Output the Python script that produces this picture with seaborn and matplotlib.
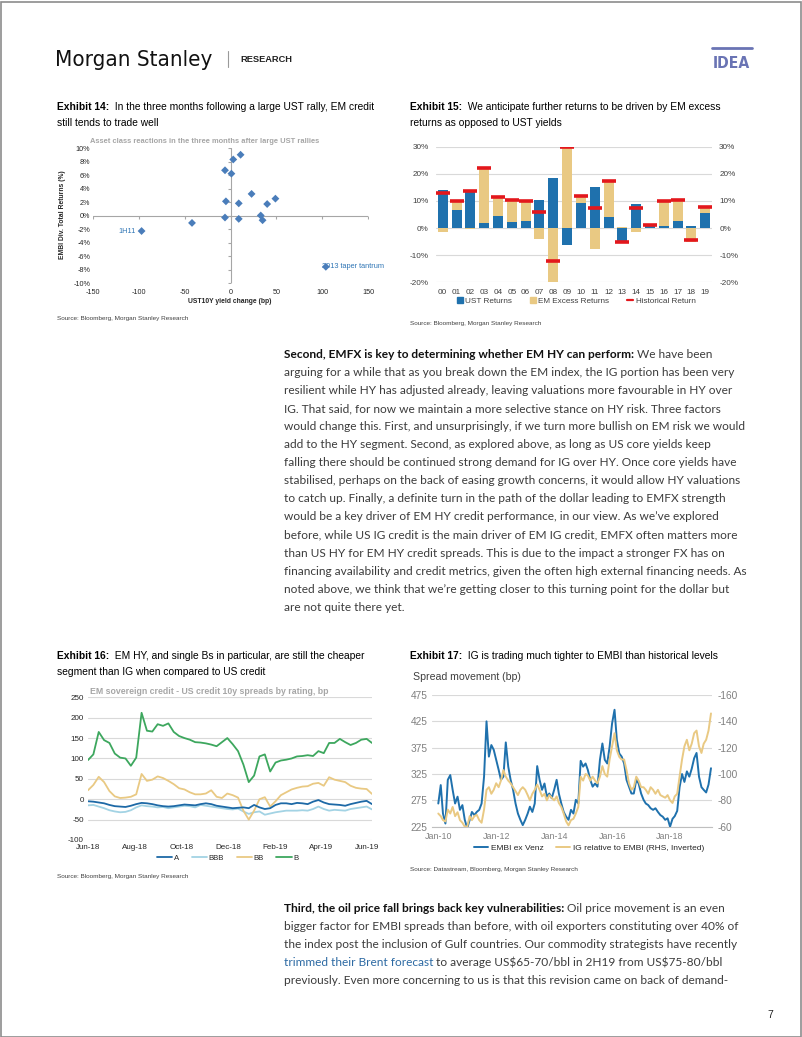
import numpy as np
import pandas as pd
import matplotlib
matplotlib.use('Agg')
import matplotlib.pyplot as plt
import matplotlib.dates as mdates
from matplotlib import font_manager
from matplotlib.lines import Line2D
from matplotlib.patches import Patch, Rectangle
from matplotlib.ticker import FuncFormatter
import seaborn as sns

W, H = 802, 1037

# Exhibit 14: UST rally episodes
ust_change = [11, 3, -6, 1, 23, 49, -5, 9, 40, -6, 9, 33, 35, -42, -97, 104]
embi_return = [9.0, 8.3, 6.7, 6.2, 3.2, 2.5, 2.1, 1.8, 1.7, -0.3, -0.5, 0.0, -0.7, -1.1, -2.3, -7.6]

# Exhibit 15: yearly returns (%)
years = ['00', '01', '02', '03', '04', '05', '06', '07', '08', '09',
         '10', '11', '12', '13', '14', '15', '16', '17', '18', '19']
ust_returns = [14.2, 6.6, 14.1, 2.0, 4.3, 2.3, 2.7, 10.3, 18.3, -6.1,
               9.3, 15.2, 4.1, -5.6, 8.8, 0.8, 0.7, 2.5, 0.9, 5.7]
em_excess = [-1.4, 3.1, -0.5, 20.2, 7.2, 7.9, 7.1, -4.2, -30.5, 30.0,
             2.7, -7.9, 13.3, 0.5, -1.3, 0.5, 9.4, 7.8, -5.0, 2.0]
hist_return = [12.8, 9.8, 13.7, 22.2, 11.5, 10.2, 9.8, 6.1, -12.2, 30.0,
               12.0, 7.4, 17.3, -5.3, 7.5, 1.3, 10.1, 10.3, -4.3, 7.7]

# Exhibit 16: weekly spreads by rating, bp
week_dates = pd.date_range('2018-06-01', periods=54, freq='7D')
rating_a = [-5, -6, -8, -10, -14, -17, -18, -19, -16, -12,
            -9, -10, -12, -15, -17, -18, -17, -15, -13, -14,
            -15, -12, -10, -12, -16, -18, -20, -22, -21, -20,
            -22, -14, -20, -24, -22, -14, -10, -10, -12, -9,
            -10, -12, -6, -2, -8, -12, -13, -14, -16, -12,
            -9, -6, -4, -12]
rating_bbb = [-15, -14, -18, -22, -27, -30, -32, -31, -27, -20,
              -15, -17, -18, -20, -19, -22, -20, -18, -16, -17,
              -20, -14, -16, -18, -20, -22, -24, -25, -23, -30,
              -36, -32, -30, -38, -35, -32, -30, -28, -28, -28,
              -27, -28, -24, -18, -24, -28, -26, -27, -28, -24,
              -22, -20, -18, -25]
rating_bb = [22, 35, 55, 42, 20, 7, 3, 4, 6, 12,
             62, 45, 48, 56, 52, 45, 37, 27, 24, 17,
             12, 12, 14, 22, 6, 3, 14, 10, 4, -28,
             -50, -28, 0, 5, -18, -5, 10, 17, 24, 28,
             31, 32, 38, 40, 33, 54, 48, 45, 42, 33,
             28, 26, 25, 13]
rating_b = [96, 110, 165, 145, 138, 112, 102, 100, 82, 102,
            212, 168, 166, 184, 180, 186, 165, 155, 150, 146,
            140, 139, 137, 134, 130, 140, 150, 135, 118, 85,
            42, 58, 105, 110, 68, 90, 95, 97, 100, 105,
            106, 108, 106, 118, 113, 138, 138, 148, 140, 133,
            138, 146, 148, 138]

# Exhibit 17: monthly spreads, bp
month_dates = pd.date_range('2010-01-01', periods=114, freq='MS')
embi_ex_venz = [269, 304, 250, 231, 314, 323, 295, 269, 282, 257, 266, 238,
                222, 238, 253, 247, 253, 257, 269, 320, 425, 358, 380, 371,
                352, 333, 314, 320, 385, 339, 314, 295, 269, 250, 238, 228,
                238, 250, 263, 253, 269, 340, 314, 295, 307, 282, 288, 279,
                295, 314, 288, 269, 253, 244, 238, 257, 250, 276, 269, 350,
                339, 345, 333, 314, 301, 307, 301, 352, 383, 352, 345, 377,
                421, 447, 390, 364, 358, 345, 314, 301, 288, 288, 314, 307,
                288, 276, 269, 266, 260, 257, 260, 253, 247, 244, 238, 241,
                225, 240, 245, 255, 300, 325, 310, 330, 320, 335, 355, 365,
                320, 300, 295, 290, 305, 336]
ig_rel_embi = [-70, -68, -65, -64, -73, -70, -75, -68, -71, -65, -63, -60,
               -60, -68, -65, -68, -69, -65, -63, -73, -88, -90, -85, -88,
               -93, -90, -95, -103, -98, -95, -93, -90, -87, -84, -88, -90,
               -88, -84, -80, -85, -88, -92, -88, -83, -85, -80, -84, -82,
               -80, -83, -78, -75, -70, -64, -61, -65, -66, -70, -75, -98,
               -95, -100, -99, -95, -98, -95, -93, -98, -106, -100, -98, -111,
               -121, -131, -118, -113, -111, -111, -103, -93, -88, -90, -98, -95,
               -90, -90, -88, -85, -90, -88, -85, -88, -84, -83, -82, -84,
               -80, -78, -83, -85, -98, -111, -121, -126, -118, -123, -131, -133,
               -121, -116, -123, -126, -133, -146]

BLUE = '#1f71ad'
TAN = '#e9c983'
RED = '#e3171c'
GRID = '#d9d9d9'

sns.set_style('white')
CHART_FONT = ['Liberation Sans', 'DejaVu Sans']
BODY_FONT = ['Lato', 'DejaVu Sans']
plt.rcParams['font.family'] = CHART_FONT
plt.rcParams['axes.unicode_minus'] = False

# a condensed face for the logo, if one is installed
narrow = [f for f in font_manager.fontManager.ttflist if 'condensed' in str(f.stretch).lower()
          or 'Narrow' in f.name or 'Condensed' in f.name]
if narrow:
    LOGO = dict(family=narrow[0].name, fontstretch=narrow[0].stretch)
else:
    LOGO = dict(family=['Roboto', 'DejaVu Sans'])

fig = plt.figure(figsize=(W / 100, H / 100), dpi=100)
renderer = fig.canvas.get_renderer()


def fx(x):
    return x / W


def fy(y):
    return 1 - y / H


def add_ax(x0, y0, x1, y1):
    return fig.add_axes([x0 / W, 1 - y1 / H, (x1 - x0) / W, (y1 - y0) / H])


def put(x, y, s, **kw):
    kw.setdefault('va', 'baseline')
    return fig.text(fx(x), fy(y), s, **kw)


def rich(x, y, parts, **kw):
    cx = x
    for s, weight, color in parts:
        t = put(cx, y, s, fontweight=weight, color=color, **kw)
        cx = t.get_window_extent(renderer).x1
    return cx


def fit(s, width, **kw):
    t = fig.text(0, 0, s, fontsize=10, **kw)
    w = t.get_window_extent(renderer).width
    t.remove()
    return 10 * width / w


# ---------------- header ----------------
fig.patches.append(Rectangle((0.5 / W, 0.5 / H), (W - 2) / W, (H - 2) / H, transform=fig.transFigure,
                             fill=False, edgecolor='#8c8c8c', lw=1.2))
ms = fit('Morgan Stanley', 157, **LOGO)
put(55, 66, 'Morgan Stanley', fontsize=ms, color='#111111', **LOGO)
fig.add_artist(Line2D([fx(228), fx(228)], [fy(51), fy(67)], color='#9a9a9a', lw=0.8))
rs = fit('RESEARCH', 52, fontweight='bold')
put(240, 62, 'RESEARCH', fontsize=rs, fontweight='bold', color='#222222')
ids = fit('IDEA', 37, fontweight='bold', **LOGO)
put(713, 68, 'IDEA', fontsize=ids, fontweight='bold', color='#6a74b4', **LOGO)
fig.add_artist(Line2D([fx(712), fx(752)], [fy(48), fy(48)], color='#6a74b4', lw=2))

# ---------------- exhibit titles ----------------
ts = fit('Exhibit 14:  In the three months following a large UST rally, EM credit', 312)
rich(57, 110, [('Exhibit 14:', 'bold', '#000000'),
               ('  In the three months following a large UST rally, EM credit', 'normal', '#000000')], fontsize=ts)
put(57, 126, 'still tends to trade well', fontsize=ts, color='#000000')
rich(410, 110, [('Exhibit 15:', 'bold', '#000000'),
                ('  We anticipate further returns to be driven by EM excess', 'normal', '#000000')], fontsize=ts)
put(410, 126, 'returns as opposed to UST yields', fontsize=ts, color='#000000')
rich(57, 659, [('Exhibit 16:', 'bold', '#000000'),
               ('  EM HY, and single Bs in particular, are still the cheaper', 'normal', '#000000')], fontsize=ts)
put(57, 675, 'segment than IG when compared to US credit', fontsize=ts, color='#000000')
rich(410, 659, [('Exhibit 17:', 'bold', '#000000'),
                ('  IG is trading much tighter to EMBI than historical levels', 'normal', '#000000')], fontsize=ts)

src_kw = dict(fontsize=4.6, color='#404040')
put(57, 320, 'Source: Bloomberg, Morgan Stanley Research', **src_kw)
put(410, 325, 'Source: Bloomberg, Morgan Stanley Research', **src_kw)
put(57, 878, 'Source: Bloomberg, Morgan Stanley Research', **src_kw)
put(410, 871, 'Source: Datastream, Bloomberg, Morgan Stanley Research', **src_kw)

# ---------------- Exhibit 14: scatter ----------------
ax14 = add_ax(93, 148, 368, 283)
sns.scatterplot(x=ust_change, y=embi_return, ax=ax14, marker='D', s=16,
                color='#4a7dba', edgecolor='none', zorder=3)
ax14.set_xlim(-150, 150)
ax14.set_ylim(-10, 10)
x14 = np.arange(-150, 151, 50)
y14 = np.arange(-10, 11, 2)
ax14.set_xticks(x14)
ax14.set_yticks(y14)
ax14.yaxis.set_major_formatter(FuncFormatter(lambda v, p: f'{v:.0f}%'))
ax14.tick_params(length=0, labelsize=5.2, labelcolor='#262626', pad=2)
ax14.tick_params(axis='x', pad=4)
for s in ax14.spines.values():
    s.set_visible(False)
ax14.axhline(0, color='#a6a6a6', lw=0.8, zorder=1)
ax14.axvline(0, color='#a6a6a6', lw=0.8, zorder=1)
ax14.plot(x14, np.zeros(len(x14)), ls='none', marker=3, ms=2.5, color='#a6a6a6', mew=0.8)
ax14.plot(np.zeros(len(y14)), y14, ls='none', marker=0, ms=2.5, color='#a6a6a6', mew=0.8)
ax14.text(ust_change[14] - 6, embi_return[14], '1H11', ha='right', va='center', fontsize=5.3, color='#2f75b5')
ax14.text(ust_change[15] - 4, embi_return[15], '2013 taper tantrum', ha='left', va='center',
          fontsize=5.3, color='#2f75b5', zorder=2)
ax14.set_xlabel('')
ax14.set_ylabel('')
t14 = fit('Asset class reactions in the three months after large UST rallies', 230, fontweight='bold')
put(90, 143, 'Asset class reactions in the three months after large UST rallies', fontsize=t14,
    fontweight='bold', color='#a6a6a6')
put(63, 215, 'EMBI Div. Total Returns (%)', fontsize=4.9, fontweight='bold', rotation=90,
    ha='center', va='center', color='#262626')
put(230, 302, 'UST10Y yield change (bp)', fontsize=4.9, fontweight='bold', ha='center', va='center',
    color='#262626')

# ---------------- Exhibit 15: stacked bars ----------------
ax15 = add_ax(435.8, 146.7, 712.2, 282.3)
pos = np.arange(len(years))
sns.barplot(x=pos, y=ust_returns, ax=ax15, color=BLUE, saturation=1, width=0.72, linewidth=0, zorder=2)
ust_arr = np.array(ust_returns)
em_arr = np.array(em_excess)
bottoms = np.where(np.sign(ust_arr) == np.sign(em_arr), ust_arr, 0)
ax15.bar(pos, em_arr, bottom=bottoms, width=0.72, color=TAN, linewidth=0, zorder=2)
ax15.plot(pos, hist_return, ls='none', marker='_', ms=10, mew=2.6, color=RED, zorder=4)
ax15.set_xlim(-0.5, len(years) - 0.5)
ax15.set_ylim(-20, 30)
ax15.set_yticks(np.arange(-20, 31, 10))
ax15.set_xticks(pos)
ax15.set_xticklabels(years)
ax15.yaxis.set_major_formatter(FuncFormatter(lambda v, p: f'{v:.0f}%'))
ax15.tick_params(length=0, labelsize=5.9, labelcolor='#404040', pad=5)
ax15.tick_params(axis='y', labelright=True, pad=5)
ax15.grid(axis='y', color=GRID, lw=0.8, zorder=0)
ax15.set_axisbelow(True)
for s in ax15.spines.values():
    s.set_visible(False)
h15 = [Patch(color=BLUE), Patch(color=TAN), Line2D([], [], color=RED, lw=1.6)]
ax15.legend(h15, ['UST Returns', 'EM Excess Returns', 'Historical Return'], ncol=3, loc='center left',
            bbox_to_anchor=(fx(453), fy(301)), bbox_transform=fig.transFigure, frameon=False,
            fontsize=5.9, handlelength=0.7, handleheight=0.7, handletextpad=0.3, columnspacing=2.2,
            labelcolor='#404040', borderpad=0)

# ---------------- body text ----------------
body_color = '#3c3c3c'
bs = fit('arguing for a while that as you break down the EM index, the IG portion has been very', 449,
         family=BODY_FONT)
block1 = [
    'arguing for a while that as you break down the EM index, the IG portion has been very',
    'resilient while HY has adjusted already, leaving valuations more favourable in HY over',
    'IG. That said, for now we maintain a more selective stance on HY risk. Three factors',
    'would change this. First, and unsurprisingly, if we turn more bullish on EM risk we would',
    'add to the HY segment. Second, as explored above, as long as US core yields keep',
    'falling there should be continued strong demand for IG over HY. Once core yields have',
    'stabilised, perhaps on the back of easing growth concerns, it would allow HY valuations',
    'to catch up. Finally, a definite turn in the path of the dollar leading to EMFX strength',
    'would be a key driver of EM HY credit performance, in our view. As we\u2019ve explored',
    'before, while US IG credit is the main driver of EM IG credit, EMFX often matters more',
    'than US HY for EM HY credit spreads. This is due to the impact a stronger FX has on',
    'financing availability and credit metrics, given the often high external financing needs. As',
    'noted above, we think that we\u2019re getting closer to this turning point for the dollar but',
    'are not quite there yet.',
]
rich(284, 358, [('Second, EMFX is key to determining whether EM HY can perform:', 'bold', '#111111'),
                (' We have been', 'normal', body_color)], fontsize=bs, family=BODY_FONT)
for i, line in enumerate(block1):
    put(284, 358 + 18.05 * (i + 1), line, fontsize=bs, family=BODY_FONT, color=body_color)

block2 = [
    'bigger factor for EMBI spreads than before, with oil exporters constituting over 40% of',
    'the index post the inclusion of Gulf countries. Our commodity strategists have recently',
]
y2 = 911.5
rich(284, y2, [('Third, the oil price fall brings back key vulnerabilities:', 'bold', '#111111'),
               (' Oil price movement is an even', 'normal', body_color)], fontsize=bs, family=BODY_FONT)
for i, line in enumerate(block2):
    put(284, y2 + 18.15 * (i + 1), line, fontsize=bs, family=BODY_FONT, color=body_color)
rich(284, y2 + 18.15 * 3, [('trimmed their Brent forecast', 'normal', '#2d6aa3'),
                           (r' to average US\$65-70/bbl in 2H19 from US\$75-80/bbl', 'normal', body_color)],
     fontsize=bs, family=BODY_FONT)
put(284, y2 + 18.15 * 4, 'previously. Even more concerning to us is that this revision came on back of demand-',
    fontsize=bs, family=BODY_FONT, color=body_color)
put(770, 1018, '7', fontsize=7.5, color='#222222', ha='center')

# ---------------- Exhibit 16: spreads by rating ----------------
ax16 = add_ax(88, 697.3, 372, 840)
c16 = {'A': '#1d69a6', 'BBB': '#a3d3e4', 'BB': '#e9c983', 'B': '#3da75e'}
sns.lineplot(x=week_dates, y=rating_bbb, ax=ax16, color=c16['BBB'], lw=1.3)
sns.lineplot(x=week_dates, y=rating_bb, ax=ax16, color=c16['BB'], lw=1.3)
sns.lineplot(x=week_dates, y=rating_a, ax=ax16, color=c16['A'], lw=1.3)
sns.lineplot(x=week_dates, y=rating_b, ax=ax16, color=c16['B'], lw=1.3)
ax16.set_xlim(pd.Timestamp('2018-06-01'), pd.Timestamp('2019-06-07'))
ax16.set_ylim(-100, 250)
ax16.set_yticks(np.arange(-100, 251, 50))
ax16.xaxis.set_major_locator(mdates.MonthLocator(bymonth=[2, 4, 6, 8, 10, 12]))
ax16.xaxis.set_major_formatter(mdates.DateFormatter('%b-%y'))
ax16.tick_params(length=0, labelsize=5.8, labelcolor='#262626', pad=3)
ax16.grid(axis='y', color=GRID, lw=0.8)
ax16.set_axisbelow(True)
ax16.set_xlabel('')
ax16.set_ylabel('')
for s in ax16.spines.values():
    s.set_visible(False)
h16 = [Line2D([], [], color=c16[k], lw=1.3) for k in ['A', 'BBB', 'BB', 'B']]
ax16.legend(h16, ['A', 'BBB', 'BB', 'B'], ncol=4, loc='center left',
            bbox_to_anchor=(fx(153), fy(858)), bbox_transform=fig.transFigure, frameon=False,
            fontsize=5.6, handlelength=2.0, handletextpad=0.2, columnspacing=1.6, labelcolor='#262626',
            borderpad=0)
t16 = fit('EM sovereign credit - US credit 10y spreads by rating, bp', 237, fontweight='bold')
put(90, 694, 'EM sovereign credit - US credit 10y spreads by rating, bp', fontsize=t16,
    fontweight='bold', color='#a6a6a6')

# ---------------- Exhibit 17: EMBI vs IG ----------------
ax17 = add_ax(431.7, 695, 711.7, 826.7)
sns.lineplot(x=month_dates, y=embi_ex_venz, ax=ax17, color=BLUE, lw=1.4)
ax17.set_xlim(pd.Timestamp('2009-10-10'), pd.Timestamp('2019-06-10'))
ax17.set_ylim(225, 475)
ax17.set_yticks(np.arange(225, 476, 50))
ax17.xaxis.set_major_locator(mdates.YearLocator(2))
ax17.xaxis.set_major_formatter(mdates.DateFormatter('%b-%y'))
ax17.tick_params(length=0, labelsize=7.3, labelcolor='#808080', pad=3)
ax17.tick_params(axis='x', labelsize=6.4, pad=4)
ax17.grid(axis='y', color=GRID, lw=0.8)
ax17.set_axisbelow(True)
for s in ax17.spines.values():
    s.set_visible(False)
ax17.spines['bottom'].set_visible(True)
ax17.spines['bottom'].set_color('#bfbfbf')
ax17b = ax17.twinx()
sns.lineplot(x=month_dates, y=ig_rel_embi, ax=ax17b, color=TAN, lw=1.4)
ax17b.set_ylim(-60, -160)
ax17b.set_yticks(np.arange(-160, -59, 20))
ax17b.tick_params(length=0, labelsize=7.3, labelcolor='#808080', pad=4)
for s in ax17b.spines.values():
    s.set_visible(False)
ax17.set_xlabel('')
ax17.set_ylabel('')
ax17b.set_xlabel('')
ax17b.set_ylabel('')
h17 = [Line2D([], [], color=BLUE, lw=1.4), Line2D([], [], color=TAN, lw=1.4)]
ax17.legend(h17, ['EMBI ex Venz', 'IG relative to EMBI (RHS, Inverted)'], ncol=2, loc='center left',
            bbox_to_anchor=(fx(470), fy(848)), bbox_transform=fig.transFigure, frameon=False,
            fontsize=6.0, handlelength=1.7, handletextpad=0.3, columnspacing=1.5, labelcolor='#262626',
            borderpad=0)
put(413, 680, 'Spread movement (bp)', fontsize=7.6, color='#404040')

fig.savefig('out.png', dpi=100)
